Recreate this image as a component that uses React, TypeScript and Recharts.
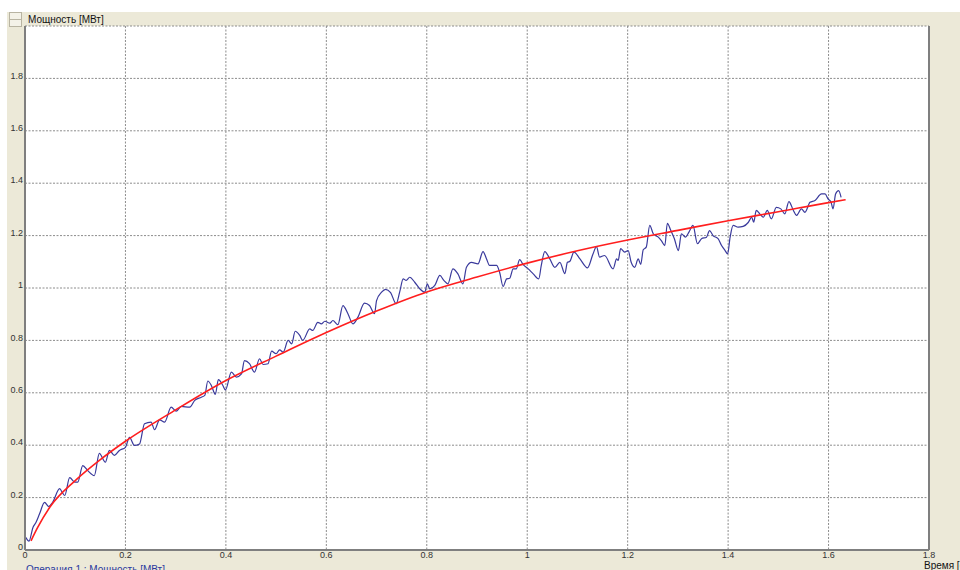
import { LineChart, Line, XAxis, YAxis, CartesianGrid, ReferenceLine } from "recharts"

const blueTime = [
  0.001, 0.008, 0.016, 0.022, 0.029, 0.039, 0.047, 0.055, 0.069, 0.075, 0.079, 0.089, 0.099, 0.105, 0.115, 0.125,
  0.138, 0.148, 0.16, 0.168, 0.178, 0.188, 0.2, 0.208, 0.218, 0.228, 0.238, 0.251, 0.258, 0.268, 0.278, 0.291,
  0.301, 0.311, 0.328, 0.338, 0.351, 0.358, 0.364, 0.371, 0.379, 0.385, 0.394, 0.399, 0.411, 0.421, 0.431, 0.437,
  0.447, 0.457, 0.467, 0.474, 0.484, 0.491, 0.5, 0.507, 0.514, 0.524, 0.531, 0.538, 0.547, 0.553, 0.567, 0.573,
  0.583, 0.59, 0.597, 0.607, 0.613, 0.623, 0.633, 0.643, 0.653, 0.663, 0.676, 0.686, 0.696, 0.7, 0.71, 0.718,
  0.728, 0.739, 0.746, 0.753, 0.759, 0.766, 0.776, 0.786, 0.796, 0.801, 0.806, 0.816, 0.826, 0.834, 0.842, 0.852,
  0.862, 0.872, 0.879, 0.889, 0.902, 0.912, 0.919, 0.925, 0.939, 0.945, 0.952, 0.959, 0.965, 0.972, 0.978, 0.985,
  0.992, 1.002, 1.012, 1.023, 1.028, 1.035, 1.045, 1.055, 1.065, 1.075, 1.08, 1.085, 1.093, 1.105, 1.12, 1.131,
  1.138, 1.144, 1.154, 1.171, 1.178, 1.181, 1.186, 1.194, 1.201, 1.207, 1.214, 1.221, 1.226, 1.231, 1.237, 1.244,
  1.251, 1.261, 1.267, 1.274, 1.279, 1.286, 1.293, 1.301, 1.307, 1.315, 1.322, 1.33, 1.339, 1.347, 1.357, 1.363,
  1.37, 1.38, 1.387, 1.394, 1.399, 1.404, 1.41, 1.42, 1.43, 1.44, 1.447, 1.451, 1.456, 1.463, 1.47, 1.478,
  1.486, 1.496, 1.505, 1.513, 1.521, 1.53, 1.536, 1.546, 1.553, 1.563, 1.573, 1.586, 1.593, 1.599, 1.605, 1.609,
  1.614, 1.62, 1.625,
]
const bluePower = [
  0.049, 0.034, 0.087, 0.106, 0.138, 0.182, 0.166, 0.182, 0.234, 0.217, 0.208, 0.276, 0.259, 0.259, 0.322, 0.303,
  0.284, 0.369, 0.335, 0.38, 0.361, 0.38, 0.392, 0.43, 0.399, 0.405, 0.482, 0.488, 0.459, 0.497, 0.488, 0.545,
  0.53, 0.548, 0.545, 0.571, 0.583, 0.59, 0.645, 0.628, 0.594, 0.65, 0.628, 0.611, 0.679, 0.66, 0.672, 0.723,
  0.711, 0.679, 0.73, 0.708, 0.711, 0.759, 0.749, 0.764, 0.755, 0.8, 0.787, 0.835, 0.819, 0.8, 0.844, 0.838,
  0.869, 0.863, 0.873, 0.866, 0.876, 0.86, 0.933, 0.902, 0.863, 0.889, 0.942, 0.933, 0.902, 0.952, 0.984, 0.995,
  0.982, 0.94, 0.984, 1.035, 1.029, 1.041, 1.022, 0.997, 0.984, 1.016, 0.997, 1.01, 1.048, 1.029, 1.016, 1.073,
  1.054, 1.016, 1.079, 1.098, 1.092, 1.139, 1.111, 1.086, 1.086, 1.06, 1.006, 1.035, 1.037, 1.073, 1.073, 1.108,
  1.089, 1.073, 1.054, 1.035, 1.086, 1.139, 1.111, 1.079, 1.098, 1.055, 1.098, 1.102, 1.137, 1.111, 1.077, 1.13,
  1.158, 1.118, 1.124, 1.073, 1.111, 1.105, 1.15, 1.137, 1.143, 1.098, 1.079, 1.111, 1.09, 1.146, 1.156, 1.239,
  1.207, 1.194, 1.181, 1.162, 1.247, 1.219, 1.188, 1.143, 1.207, 1.194, 1.213, 1.239, 1.169, 1.188, 1.194, 1.219,
  1.2, 1.188, 1.162, 1.143, 1.13, 1.194, 1.239, 1.232, 1.235, 1.25, 1.27, 1.251, 1.296, 1.283, 1.27, 1.296,
  1.264, 1.308, 1.302, 1.283, 1.33, 1.296, 1.277, 1.302, 1.289, 1.327, 1.334, 1.359, 1.359, 1.34, 1.327, 1.302,
  1.359, 1.372, 1.346,
]

// fitted curve (red)
const redTime = [0.012, 0.025, 0.05, 0.1, 0.15, 0.2, 0.3, 0.4, 0.5, 0.6, 0.7, 0.8, 0.9, 1.0, 1.1, 1.2, 1.3, 1.4, 1.5, 1.6, 1.634]
const redPower = [0.035, 0.085, 0.165, 0.265, 0.345, 0.415, 0.535, 0.647, 0.74, 0.83, 0.912, 0.985, 1.042, 1.095, 1.142, 1.183, 1.22, 1.257, 1.291, 1.326, 1.337]

const xTicks = [0, 0.2, 0.4, 0.6, 0.8, 1, 1.2, 1.4, 1.6, 1.8]
const yTicks = [0, 0.2, 0.4, 0.6, 0.8, 1, 1.2, 1.4, 1.6, 1.8]

const blueData = blueTime.map((t, i) => ({ t, p: bluePower[i] }))
const redData = redTime.map((t, i) => ({ t, p: redPower[i] }))

const font = "'Liberation Sans', Arial, sans-serif"
const tickStyle = { fill: "#333", fontSize: 9, fontFamily: font }

export default function App() {
  return (
    <div style={{ position: "absolute", left: 0, top: 0, width: 960, height: 570, background: "#fff", overflow: "hidden", fontFamily: font }}>
      <div style={{ position: "absolute", left: 7, top: 12, right: 0, bottom: 0, background: "#ece9d8" }} />
      <div style={{ position: "absolute", left: 9, top: 12, width: 11, height: 6, border: "1px solid #b8b4a2", background: "#f4f2e8" }} />
      <div style={{ position: "absolute", left: 9, top: 19, width: 11, height: 6, border: "1px solid #b8b4a2", background: "#f4f2e8" }} />
      <div style={{ position: "absolute", left: 28, top: 14, fontSize: 10, color: "#111", whiteSpace: "nowrap" }}>Мощность [МВт]</div>
      <div style={{ position: "absolute", left: 0, top: 0 }}>
        <LineChart width={960} height={570} margin={{ top: 26, right: 31, bottom: 0, left: 0 }}>
          <CartesianGrid fill="#ffffff" fillOpacity={1} stroke="#8c8c8c" strokeDasharray="2 1.5" />
          <XAxis
            type="number"
            dataKey="t"
            domain={[0, 1.8]}
            ticks={xTicks}
            tick={tickStyle}
            tickLine={false}
            tickSize={0}
            tickMargin={2}
            height={20}
            axisLine={{ stroke: "#7f7f7f", strokeWidth: 2 }}
            allowDataOverflow
          />
          <YAxis
            type="number"
            domain={[0, 2]}
            ticks={yTicks}
            tick={{ ...tickStyle, dy: -3 }}
            tickLine={false}
            tickSize={0}
            tickMargin={2}
            width={25}
            axisLine={{ stroke: "#7f7f7f", strokeWidth: 2 }}
            allowDataOverflow
          />
          <ReferenceLine x={1.8} stroke="#7f7f7f" strokeWidth={2} />
          <Line
            data={blueData}
            dataKey="p"
            type="monotone"
            stroke="#3a3a9c"
            strokeWidth={1.2}
            dot={false}
            activeDot={false}
            isAnimationActive={false}
          />
          <Line
            data={redData}
            dataKey="p"
            type="monotone"
            stroke="#ff1e1e"
            strokeWidth={1.6}
            dot={false}
            activeDot={false}
            isAnimationActive={false}
          />
        </LineChart>
      </div>
      <div style={{ position: "absolute", left: 924, top: 560, fontSize: 10, color: "#111", whiteSpace: "nowrap" }}>Время [с]</div>
      <div style={{ position: "absolute", left: 26, top: 564, fontSize: 10, color: "#2b3a9e", whiteSpace: "nowrap" }}>Операция 1 : Мощность [МВт]</div>
    </div>
  )
}
